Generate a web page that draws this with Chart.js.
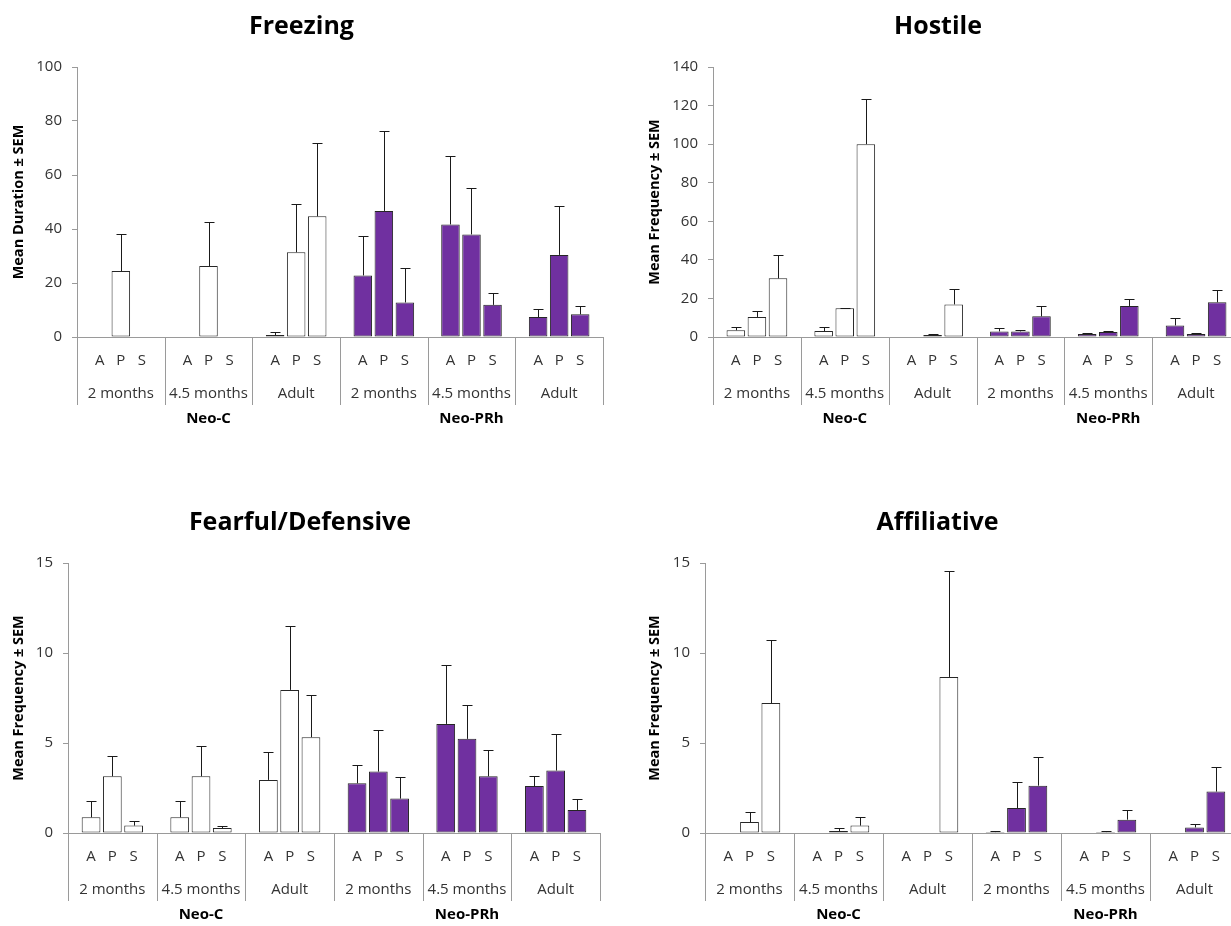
<!DOCTYPE html>
<html>
<head>
<meta charset="utf-8">
<script src="https://cdn.jsdelivr.net/npm/chart.js@4.4.0/dist/chart.umd.min.js"></script>
<style>
  html, body { margin: 0; padding: 0; background: #fff; }
  body { width: 1231px; height: 926px; overflow: hidden; position: relative; }
  .box { position: absolute; }
</style>
</head>
<body>
<div class="box" style="left:0px;top:0px"><canvas id="freezing" width="608" height="430"></canvas></div>
<div class="box" style="left:636px;top:0px"><canvas id="hostile" width="608" height="430"></canvas></div>
<div class="box" style="left:0px;top:496px"><canvas id="fearful" width="602" height="430"></canvas></div>
<div class="box" style="left:636px;top:496px"><canvas id="affiliative" width="608" height="430"></canvas></div>
<script>
// categories
const groups = ['2 months', '4.5 months', 'Adult', '2 months', '4.5 months', 'Adult'];
const series = ['A', 'P', 'S'];
const treatments = ['Neo-C', 'Neo-PRh'];

// Freezing - mean duration, and SEM
const freezingA = [0, 0, 0.7, 22.8, 41.7, 7.4];
const freezingP = [24.4, 26.3, 31.4, 46.7, 38.0, 30.4];
const freezingS = [0, 0, 44.7, 12.8, 11.9, 8.4];
const freezingSemA = [0, 0, 1.3, 14.6, 25.2, 2.8];
const freezingSemP = [13.9, 16.4, 17.9, 29.6, 17.1, 18.2];
const freezingSemS = [0, 0, 27.0, 12.6, 4.3, 3.0];

// Hostile - mean frequency, and SEM
const hostileA = [3.5, 3.1, 0, 2.9, 1.6, 6.0];
const hostileP = [10.4, 14.9, 1.0, 2.9, 2.6, 1.6];
const hostileS = [30.4, 100.0, 16.9, 10.7, 16.1, 18.0];
const hostileSemA = [1.5, 1.9, 0, 1.6, 0.6, 4.0];
const hostileSemP = [2.9, 0.3, 0.4, 0.9, 0.7, 0.6];
const hostileSemS = [12.1, 23.6, 8.0, 5.2, 3.4, 6.2];

// Fearful/Defensive
const fearfulA = [0.87, 0.87, 2.95, 2.76, 6.06, 2.61];
const fearfulP = [3.15, 3.15, 7.95, 3.41, 5.23, 3.47];
const fearfulS = [0.41, 0.28, 5.32, 1.91, 3.15, 1.28];
const fearfulSemA = [0.91, 0.91, 1.55, 1.0, 3.29, 0.58];
const fearfulSemP = [1.13, 1.69, 3.55, 2.3, 1.89, 2.03];
const fearfulSemS = [0.28, 0.11, 2.32, 1.19, 1.47, 0.63];

// Affiliative
const affiliativeA = [0, 0, 0, 0.05, 0, 0];
const affiliativeP = [0.61, 0.11, 0, 1.39, 0.05, 0.31];
const affiliativeS = [7.22, 0.41, 8.67, 2.63, 0.74, 2.3];
const affiliativeSemA = [0, 0, 0, 0.06, 0, 0];
const affiliativeSemP = [0.56, 0.17, 0, 1.44, 0.06, 0.21];
const affiliativeSemS = [3.48, 0.48, 5.9, 1.57, 0.52, 1.37];

const FONT = '"Open Sans", "Noto Sans", sans-serif';
const axisColor = '#9a9a9a';
const textColor = '#333333';
const barFill = ['#ffffff', '#ffffff', '#ffffff', '#7030a0', '#7030a0', '#7030a0'];

// error bars, A/P/S labels, group separators and group names
const groupPlugin = {
  id: 'groupLabels',
  afterDatasetsDraw(chart) {
    const ctx = chart.ctx;
    const xs = chart.scales.x;
    const ys = chart.scales.y;
    const area = chart.chartArea;
    const step = area.width / groups.length;
    ctx.save();

    // error bars (upper only, with cap)
    ctx.strokeStyle = '#1a1a1a';
    ctx.lineWidth = 1;
    chart.data.datasets.forEach(function (ds, i) {
      const meta = chart.getDatasetMeta(i);
      ds.data.forEach(function (v, j) {
        const sem = ds.sem[j];
        if (!sem) return;
        const x = Math.round(meta.data[j].x) + 0.5;
        const yTop = Math.round(ys.getPixelForValue(v + sem)) + 0.5;
        const yBase = ys.getPixelForValue(v);
        ctx.beginPath();
        ctx.moveTo(x, yBase);
        ctx.lineTo(x, yTop);
        ctx.moveTo(x - 5, yTop);
        ctx.lineTo(x + 5, yTop);
        ctx.stroke();
      });
    });

    // separators below the axis
    ctx.strokeStyle = axisColor;
    for (let k = 0; k <= groups.length; k++) {
      const px = Math.round(area.left + k * step) + 0.5;
      ctx.beginPath();
      ctx.moveTo(px, area.bottom);
      ctx.lineTo(px, area.bottom + 68);
      ctx.stroke();
    }

    ctx.textAlign = 'center';
    ctx.textBaseline = 'middle';
    ctx.fillStyle = textColor;
    ctx.font = '15px ' + FONT;
    chart.data.datasets.forEach(function (ds, i) {
      const meta = chart.getDatasetMeta(i);
      meta.data.forEach(function (bar) {
        ctx.fillText(series[i], bar.x, area.bottom + 24);
      });
    });
    groups.forEach(function (g, j) {
      ctx.fillText(g, xs.getPixelForValue(j), area.bottom + 57);
    });

    ctx.fillStyle = '#000';
    ctx.font = 'bold 15px ' + FONT;
    treatments.forEach(function (t, k) {
      ctx.fillText(t, area.left + (k * 3 + 1.5) * step, area.bottom + 82);
    });
    ctx.restore();
  }
};

function createbarchart(id, title, ytitle, ymax, ystep, axisw, padright, vals, sems) {
  "use strict";

  const chartdata = {
    labels: groups,
    datasets: series.map(function (s, i) {
      return {
        label: s,
        data: vals[i],
        sem: sems[i],
        backgroundColor: barFill,
        borderColor: '#262626',
        borderWidth: 1,
        borderSkipped: false,
        categoryPercentage: 0.72,
        barPercentage: 0.88
      };
    })
  };

  const config = {
    type: 'bar',
    data: chartdata,
    options: {
      responsive: false,
      animation: false,
      devicePixelRatio: 1,
      layout: { padding: { left: 0, right: padright, top: 0, bottom: 0 } },
      plugins: {
        legend: { display: false },
        tooltip: { enabled: false },
        title: {
          display: true,
          text: title,
          color: '#000',
          font: { family: FONT, size: 25, weight: 'bold' },
          padding: { top: 12, bottom: 25 }
        }
      },
      scales: {
        x: {
          grid: { display: false },
          border: { color: axisColor, width: 1 },
          ticks: { display: false },
          afterFit: function (scale) { scale.height = 93; }
        },
        y: {
          min: 0,
          max: ymax,
          ticks: {
            stepSize: ystep,
            color: textColor,
            padding: 10,
            font: { family: FONT, size: 15 }
          },
          grid: { display: true, drawOnChartArea: false, drawTicks: true, tickLength: 5, color: axisColor },
          border: { color: axisColor, width: 1 },
          title: {
            display: true,
            text: ytitle,
            color: '#000',
            font: { family: FONT, size: 14.5, weight: 'bold' },
            padding: { top: 10, bottom: 0 }
          },
          afterFit: function (scale) { scale.width = axisw; }
        }
      }
    },
    plugins: [groupPlugin]
  };

  return new Chart(document.getElementById(id), config);
}

createbarchart('freezing', 'Freezing', 'Mean Duration \u00b1 SEM', 100, 20, 77, 5,
  [freezingA, freezingP, freezingS], [freezingSemA, freezingSemP, freezingSemS]);
createbarchart('hostile', 'Hostile', 'Mean Frequency \u00b1 SEM', 140, 20, 77, 4,
  [hostileA, hostileP, hostileS], [hostileSemA, hostileSemP, hostileSemS]);
createbarchart('fearful', 'Fearful/Defensive', 'Mean Frequency \u00b1 SEM', 15, 5, 68, 2,
  [fearfulA, fearfulP, fearfulS], [fearfulSemA, fearfulSemP, fearfulSemS]);
createbarchart('affiliative', 'Affiliative', 'Mean Frequency \u00b1 SEM', 15, 5, 69, 5,
  [affiliativeA, affiliativeP, affiliativeS], [affiliativeSemA, affiliativeSemP, affiliativeSemS]);
</script>
</body>
</html>
